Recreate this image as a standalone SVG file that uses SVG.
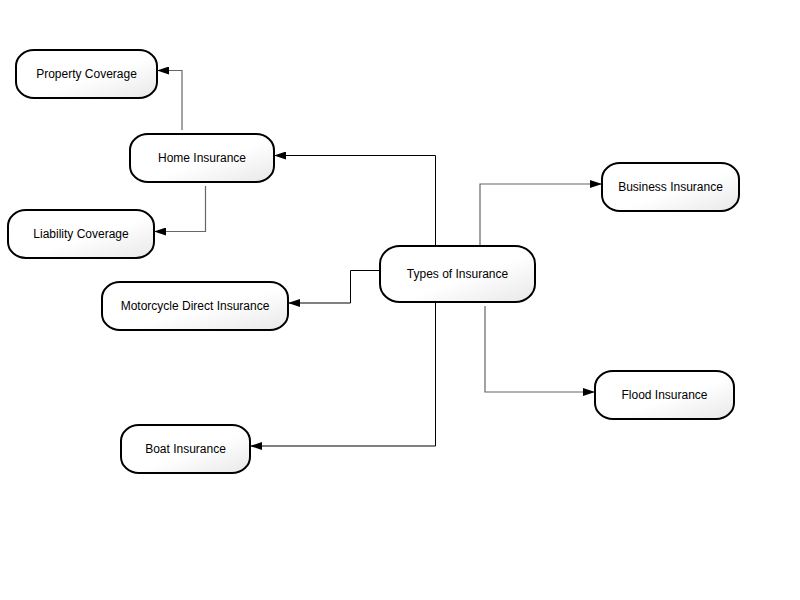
<svg xmlns="http://www.w3.org/2000/svg" width="800" height="600" viewBox="0 0 800 600">
<defs>
<linearGradient id="g" x1="0" y1="0" x2="1" y2="1">
<stop offset="0.55" stop-color="#ffffff"/>
<stop offset="1" stop-color="#e8e8e8"/>
</linearGradient>
<marker id="ah" markerWidth="12" markerHeight="8" refX="12" refY="4" orient="auto" markerUnits="userSpaceOnUse">
<path d="M0,0 L12,4 L0,8 Z" fill="#000"/>
</marker>
<style>
.n{fill:url(#g);stroke:#000;stroke-width:2}
.t{font-family:"Liberation Sans",Arial,sans-serif;font-size:12px;fill:#000;text-anchor:middle}
.c{fill:none;stroke:#666;stroke-width:1.2;marker-end:url(#ah)}
.k{fill:none;stroke:#000;stroke-width:1;marker-end:url(#ah)}
</style>
</defs>
<rect width="800" height="600" fill="#fff"/>
<g id="connectors">
<path class="k" d="M435.5,246 V155.5 H274"/>
<path class="c" d="M182,130 V70.5 H157"/>
<path class="c" d="M205.5,186 V231.5 H154"/>
<path class="k" d="M380,270.5 H350.5 V303 H288"/>
<path class="c" d="M480,246 V184 H602"/>
<path class="c" d="M485,306 V392 H595"/>
<path class="k" d="M435.5,302 V446 H250"/>
</g>
<g id="property"><rect class="n" x="16" y="50" width="141" height="48" rx="18" ry="16"/><text class="t" x="86.5" y="78">Property Coverage</text></g>
<g id="home"><rect class="n" x="130" y="134" width="144" height="48" rx="18" ry="16"/><text class="t" x="202" y="162">Home Insurance</text></g>
<g id="liability"><rect class="n" x="8" y="210" width="146" height="48" rx="18" ry="16"/><text class="t" x="81" y="238">Liability Coverage</text></g>
<g id="motorcycle"><rect class="n" x="102" y="282" width="186" height="48" rx="18" ry="16"/><text class="t" x="195" y="310">Motorcycle Direct Insurance</text></g>
<g id="types"><rect class="n" x="380" y="246" width="155" height="56" rx="20" ry="18"/><text class="t" x="457.5" y="278">Types of Insurance</text></g>
<g id="business"><rect class="n" x="602" y="163" width="137" height="48" rx="18" ry="16"/><text class="t" x="670.5" y="191">Business Insurance</text></g>
<g id="flood"><rect class="n" x="595" y="371" width="139" height="48" rx="18" ry="16"/><text class="t" x="664.5" y="399">Flood Insurance</text></g>
<g id="boat"><rect class="n" x="121" y="425" width="129" height="48" rx="18" ry="16"/><text class="t" x="185.5" y="453">Boat Insurance</text></g>
</svg>
